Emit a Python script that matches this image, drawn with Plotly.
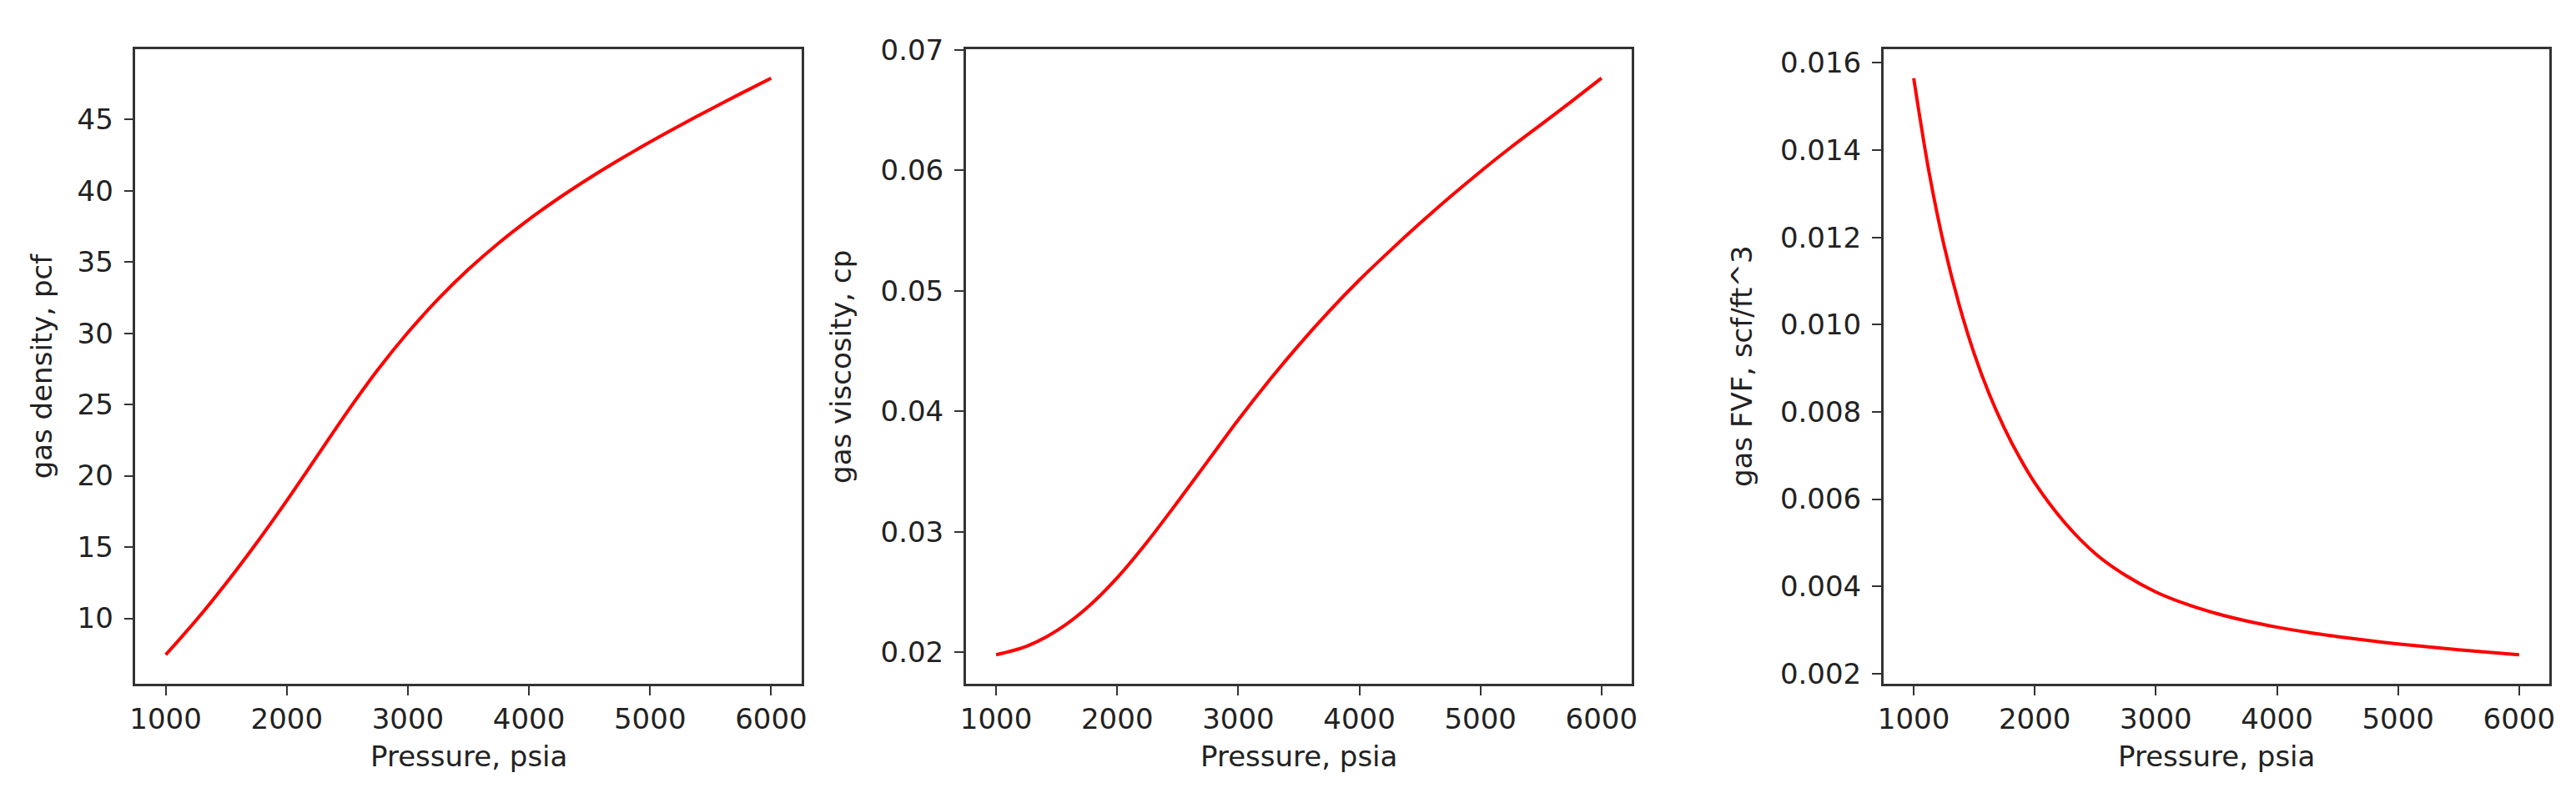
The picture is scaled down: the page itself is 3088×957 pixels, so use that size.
import plotly.graph_objects as go

# ---------------- data ----------------
pressure = [1000, 1250, 1500, 1750, 2000, 2250, 2500, 2750, 3000, 3250, 3500,
            3750, 4000, 4250, 4500, 4750, 5000, 5250, 5500, 5750, 6000]

gas_density = [7.44, 9.85, 12.47, 15.28, 18.26, 21.37, 24.49, 27.42, 30.05, 32.40,
               34.48, 36.33, 37.99, 39.50, 40.89, 42.19, 43.42, 44.59, 45.72,
               46.82, 47.90]

gas_viscosity = [0.0198, 0.0205, 0.0218, 0.0237, 0.0262, 0.0292, 0.0325, 0.0359,
                 0.0393, 0.0425, 0.0455, 0.0483, 0.0509, 0.0533, 0.0556, 0.0578,
                 0.0599, 0.0619, 0.0638, 0.0657, 0.06765]

pressure_fvf = [1000, 1125, 1250, 1375, 1500, 1625, 1750, 1875, 2000, 2250, 2500,
                2750, 3000, 3250, 3500, 3750, 4000, 4250, 4500, 4750, 5000,
                5250, 5500, 5750, 6000]
gas_fvf = [0.01565, 0.01352, 0.01182, 0.01046, 0.00933, 0.00840, 0.00762,
           0.00695, 0.00637, 0.00545, 0.00475, 0.00425, 0.00387, 0.003593,
           0.003376, 0.003204, 0.003064, 0.002947, 0.002847, 0.002759,
           0.002681, 0.002610, 0.002546, 0.002486, 0.002430]

x_title = "Pressure, psia"
y_titles = ["gas density, pcf", "gas viscosity, cp", "gas FVF, scf/ft^3"]
x_ticks = [1000, 2000, 3000, 4000, 5000, 6000]
y_ticks = [
    [10, 15, 20, 25, 30, 35, 40, 45],
    [0.02, 0.03, 0.04, 0.05, 0.06, 0.07],
    [0.002, 0.004, 0.006, 0.008, 0.010, 0.012, 0.014, 0.016],
]
y_formats = ["d", ".2f", ".3f"]

# ---------------- layout constants ----------------
W, H = 3088, 957
FONT = "DejaVu Sans"
TXT = "#222222"
FS = 34

frames = [(148, 950), (1148, 1950), (2253, 3055)]
top_px, bot_px = 33, 815
ytitle_x_px = [36, 998, 2083]
xtitle_y_px = 905


def pad_range(v):
    lo, hi = min(v), max(v)
    m = 0.05 * (hi - lo)
    return [lo - m, hi + m]


series = [(pressure, gas_density), (pressure, gas_viscosity), (pressure_fvf, gas_fvf)]

fig = go.Figure()
annotations = []
for i, ((xs, ys), (l, r)) in enumerate(zip(series, frames)):
    n = "" if i == 0 else str(i + 1)
    fig.add_trace(go.Scatter(
        x=xs, y=ys, mode="lines",
        line=dict(color="red", width=4, shape="spline", smoothing=0.9),
        xaxis="x" + n, yaxis="y" + n, showlegend=False, hoverinfo="x+y",
    ))
    common = dict(
        showline=True, linecolor="#333333", linewidth=2.5, mirror=True,
        ticks="outside", ticklen=11, tickwidth=2, tickcolor="#333333",
        showgrid=False, zeroline=False,
        tickfont=dict(family=FONT, size=FS, color=TXT),
    )
    fig.layout["xaxis" + n] = dict(
        domain=[l / W, r / W], anchor="y" + n,
        range=pad_range(xs), tickmode="array", tickvals=x_ticks,
        tickformat="d", **common,
    )
    fig.layout["yaxis" + n] = dict(
        domain=[1 - bot_px / H, 1 - top_px / H], anchor="x" + n,
        range=pad_range(ys), tickmode="array", tickvals=y_ticks[i],
        tickformat=y_formats[i], ticklabelstandoff=6, **common,
    )
    annotations.append(dict(
        text=x_title, xref="paper", yref="paper",
        x=(l + r) / 2 / W, y=1 - xtitle_y_px / H,
        xanchor="center", yanchor="middle", showarrow=False,
        font=dict(family=FONT, size=FS, color=TXT),
    ))
    annotations.append(dict(
        text=y_titles[i], xref="paper", yref="paper",
        x=ytitle_x_px[i] / W, y=1 - (top_px + bot_px) / 2 / H,
        xanchor="center", yanchor="middle", textangle=-90, showarrow=False,
        font=dict(family=FONT, size=FS, color=TXT),
    ))

fig.update_layout(
    width=W, height=H,
    margin=dict(l=0, r=0, t=0, b=0),
    paper_bgcolor="white", plot_bgcolor="white",
    annotations=annotations,
)

fig.write_html("out.html")
